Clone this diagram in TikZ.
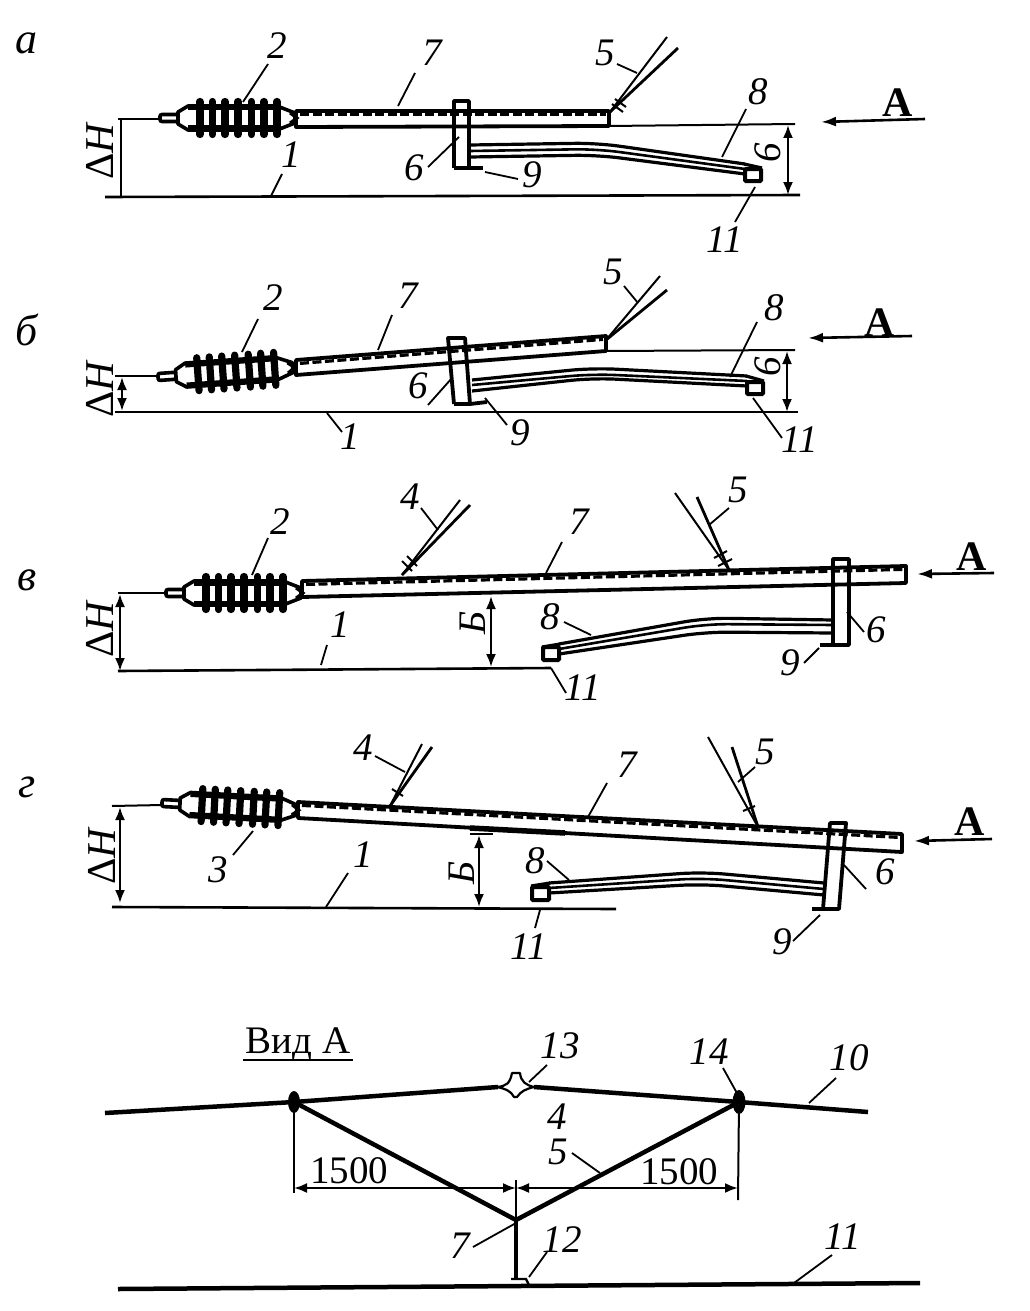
\documentclass[tikz,border=0pt]{standalone}
\usepackage{fontspec}
\setmainfont{Liberation Serif}
\usetikzlibrary{arrows.meta}
\tikzset{
  lbl/.style={font=\itshape\fontsize{39}{39}\selectfont,inner sep=0pt},
  panel/.style={font=\itshape\fontsize{44}{44}\selectfont,inner sep=0pt},
  dlt/.style={font=\itshape\fontsize{41}{41}\selectfont,inner sep=0pt,rotate=90},
  bigA/.style={font=\bfseries\fontsize{42}{42}\selectfont,inner sep=0pt},
  view/.style={font=\fontsize{39}{39}\selectfont,inner sep=0pt},
  upnum/.style={font=\fontsize{39}{39}\selectfont,inner sep=0pt},
  leader/.style={line width=1.8pt},
  thinl/.style={line width=2pt},
  wirethick/.style={line width=2.8pt},
  gnd/.style={line width=2.6pt},
  dimarr/.style={line width=2.2pt,{Latex[length=13pt,width=10pt]}-{Latex[length=13pt,width=10pt]}},
  viewarr/.style={line width=2.6pt,-{Latex[length=15pt,width=10pt]}},
  rodline/.style={line width=3.8pt,line join=round},
  roddash/.style={line width=3.2pt,dash pattern=on 9pt off 3.5pt},
  clampl/.style={line width=3.8pt,line join=round},
  boxl/.style={line width=4pt,rounded corners=1pt},
  wireo/.style={line width=3.2pt,rounded corners=22pt},
  wirem/.style={line width=2.6pt,rounded corners=22pt},
  heavy/.style={line width=4.5pt},
  insulator/.pic={
    \draw[line width=3.6pt,rounded corners=2pt,fill=white] (0,-3.5) rectangle (18,3.5);
    \draw[line width=3.6pt,fill=white,line join=round] (18,-6)--(28,-12)--(117,-12)--(135,-5)--(135,5)--(117,12)--(28,12)--(18,6)--cycle;
    \draw[line width=4pt] (28,-9.5)--(117,-9.5) (28,9.5)--(117,9.5);
    \foreach \sx in {40,52.5,65,78,91.5,104,117}{
      \draw[line width=7.2pt,line cap=round] (\sx,-16.5)--(\sx,16.5);
    }
    \draw[line width=3pt] (130,-5)--(137,0)--(130,5);
  }
}
% labelled leader
\newcommand{\lab}[5]{%
  \node[lbl] (#1) at (#3) {#2};
  \coordinate (#1-a) at (#4);
  \coordinate (#1-b) at (#5);
  \draw[leader] (#1-a)--(#1-b);
}
% rod: left x, top, bottom; right x, top, bottom
\newcommand{\rodbar}[6]{%
  \draw[rodline] (#1,#2)--(#4,#5)--(#4,#6)--(#1,#3)--cycle;
  \draw[roddash] (#1+4,#2+3.4)--(#4-3,#5+3.4);
}
% three wires between clamp and box
\newcommand{\wires}[9]{%
  \draw[wireo] (#1,#2)--(#5,#6)--(#8,#9);
  \draw[wirem] (#1,#3)--(#5,#6+6)--(#8,#9+5);
  \draw[wireo] (#1,#4)--(#5,#7)--(#8,#9+10);
}
\begin{document}
\begin{tikzpicture}[x=1pt,y=-1pt]
\useasboundingbox[fill=white] (0,0) rectangle (1029,1311);

%% ---------- panel a ----------
\node[panel] (pa) at (27,43) {а};
\draw[gnd] (105,197)--(800,195);
\draw[thinl] (609,126)--(795,124);
\draw[thinl] (118,119)--(160,119);
\draw[thinl] (120.5,119)--(120.5,197);
\node[dlt] (dHa) at (100,152) {{\upshape Δ}H};
\pic at (160,118) {insulator};
\rodbar{296}{111}{127}{609}{111}{126}
\draw[clampl] (454,168)--(454,101)--(469,101)--(469,168)--(483,168) (454,168)--(469,168);
\wires{470}{145}{151}{157}{597}{143}{155}{745}{164}
\draw[wireo] (744,164)--(762,168);
\draw[boxl] (745,169) rectangle (761,181);
\coordinate (w5a) at (667,37); \coordinate (w5b) at (678,48); \coordinate (r5a) at (610,112);
\draw[thinl] (w5a)--(r5a); \draw[wirethick] (w5b)--(r5a);
\draw[thinl] (615,99)--(626,107) (612,104)--(623,112);
\draw[dimarr] (788,125)--(788,195);
\node[lbl,rotate=90] (ba) at (768,153) {6};
\coordinate (Aa) at (925,119); \coordinate (Ab) at (821,122);
\draw[viewarr] (Aa)--(Ab);
\node[bigA] (la) at (898,103) {А};
\lab{a2}{2}{277,46}{268,64}{243,102}
\lab{a7}{7}{432,53}{415,73}{398,106}
\lab{a1}{1}{291,155}{282,174}{271,196}
\lab{a6}{6}{414,168}{428,167}{459,137}
\lab{a9}{9}{532,175}{485,172}{518,179}
\lab{a5}{5}{605,53}{617,64}{637,73}
\lab{a8}{8}{758,92}{746,109}{722,157}
\lab{a11}{11}{725,240}{755,187}{735,222}

%% ---------- panel b ----------
\node[panel] (pb) at (27,330) {б};
\draw[gnd] (115,412)--(798,412);
\draw[thinl] (606,351)--(795,350);
\draw[thinl] (115,376)--(160,376);
\draw[dimarr] (122,377)--(122,411);
\node[dlt] (dHb) at (100,390) {{\upshape Δ}H};
\pic[rotate=4] at (158,377) {insulator};
\rodbar{296}{360}{375}{606}{336}{351}
\draw[clampl] (454,404)--(448,338)--(465,338)--(470,404)--(487,402) (454,404)--(470,404);
\wires{472}{380}{385}{391}{593}{368}{378}{747}{376}
\draw[wireo] (746,376)--(764,381);
\draw[boxl] (747,382) rectangle (763,394);
\coordinate (w5c) at (660,276); \coordinate (w5d) at (667,290); \coordinate (r5b) at (606,340);
\draw[thinl] (w5c)--(r5b); \draw[wirethick] (w5d)--(r5b);
\draw[dimarr] (787,351)--(787,412);
\node[lbl,rotate=90] (bb) at (768,367) {6};
\coordinate (Ac) at (912,336); \coordinate (Ad) at (808,338);
\draw[viewarr] (Ac)--(Ad);
\node[bigA] (lb) at (880,323) {А};
\lab{b2}{2}{273,298}{258,319}{242,352}
\lab{b7}{7}{408,296}{392,315}{378,350}
\lab{b1}{1}{350,437}{327,413}{342,432}
\lab{b6}{6}{418,386}{428,405}{452,378}
\lab{b9}{9}{520,433}{485,398}{507,425}
\lab{b5}{5}{613,272}{624,286}{638,303}
\lab{b8}{8}{774,308}{757,322}{730,377}
\lab{b11}{11}{800,440}{753,398}{782,438}

%% ---------- panel v ----------
\node[panel] (pv) at (27,580) {в};
\draw[gnd] (118,671)--(551,668);
\draw[thinl] (118,593)--(166,593);
\draw[dimarr] (120,594)--(120,671);
\node[dlt] (dHv) at (100,630) {{\upshape Δ}H};
\pic at (166,593) {insulator};
\rodbar{302}{581}{597}{906}{566}{583}
\draw[clampl] (833,645)--(833,559)--(849,559)--(849,645)--(820,645);
\wires{833}{620}{625}{633}{706}{618}{632}{559}{644}
\draw[wireo] (560,644)--(542,647);
\draw[boxl] (543,647) rectangle (559,660);
\coordinate (w4a) at (460,500); \coordinate (w4b) at (470,505); \coordinate (r4a) at (402,575);
\draw[thinl] (w4a)--(r4a); \draw[wirethick] (w4b)--(r4a);
\draw[thinl] (407,556)--(417,566) (402,561)--(412,571);
\coordinate (w5e) at (675,493); \coordinate (w5f) at (697,497); \coordinate (r5c) at (729,570);
\draw[thinl] (w5e)--(r5c); \draw[wirethick] (w5f)--(r5c);
\draw[thinl] (714,558)--(727,551) (718,566)--(732,559);
\draw[dimarr] (491,596)--(491,667);
\node[lbl,rotate=90] (bv) at (473,623) {Б};
\coordinate (Ae) at (994,573); \coordinate (Af) at (917,574);
\draw[viewarr] (Ae)--(Af);
\node[bigA] (lv) at (972,557) {А};
\lab{v2}{2}{280,522}{268,538}{252,575}
\lab{v4}{4}{410,497}{421,508}{438,530}
\lab{v7}{7}{579,522}{562,542}{546,573}
\lab{v5}{5}{738,490}{729,508}{709,525}
\lab{v1}{1}{340,625}{327,645}{321,665}
\lab{v8}{8}{550,617}{564,622}{591,635}
\lab{v11}{11}{583,688}{551,668}{566,693}
\lab{v6}{6}{876,630}{864,632}{847,612}
\lab{v9}{9}{790,663}{804,663}{819,648}

%% ---------- panel g ----------
\node[panel] (pg) at (27,787) {г};
\draw[gnd] (112,907)--(616,909);
\draw[thinl] (112,806)--(162,805);
\draw[dimarr] (120,807)--(120,903);
\node[dlt] (dHg) at (102,857) {{\upshape Δ}H};
\pic[rotate=-3] at (162,803) {insulator};
\rodbar{298}{802}{818}{902}{834}{852}
\draw[line width=5.5pt] (470,828)--(565,833);
\draw[clampl] (823,909)--(830,823)--(846,823)--(839,909)--(812,909);
\draw[thinl] (470,834)--(493,834);
\wires{824}{883}{889}{895}{702}{872}{884}{549}{883}
\draw[wireo] (550,883)--(531,886);
\draw[boxl] (532,887) rectangle (549,900);
\coordinate (w4c) at (422,744); \coordinate (w4d) at (432,747); \coordinate (r4b) at (390,806);
\draw[thinl] (w4c)--(r4b); \draw[wirethick] (w4d)--(r4b);
\draw[thinl] (392,789)--(403,796);
\coordinate (w5g) at (708,737); \coordinate (w5h) at (732,747); \coordinate (r5d) at (758,827);
\draw[thinl] (w5g)--(r5d); \draw[wirethick] (w5h)--(r5d);
\draw[thinl] (743,811)--(755,806);
\draw[dimarr] (479,835)--(479,907);
\node[lbl,rotate=90] (bg) at (462,873) {Б};
\coordinate (Ag) at (992,839); \coordinate (Ah) at (914,841);
\draw[viewarr] (Ag)--(Ah);
\node[bigA] (lg) at (970,822) {А};
\lab{g4}{4}{363,748}{375,756}{405,772}
\lab{g3}{3}{218,870}{233,855}{253,831}
\lab{g7}{7}{627,765}{607,783}{588,817}
\lab{g5}{5}{765,752}{755,767}{738,782}
\lab{g1}{1}{363,855}{348,873}{326,907}
\lab{g8}{8}{535,861}{547,861}{569,880}
\lab{g11}{11}{529,947}{540,910}{535,928}
\lab{g6}{6}{885,872}{866,889}{844,865}
\lab{g9}{9}{782,942}{793,941}{820,915}

%% ---------- view A ----------
\node[view] (vt) at (298,1044) {Вид А};
\draw[line width=2.4pt] (243,1060)--(353,1060);
\coordinate (c0) at (105,1113);
\coordinate (cL) at (294,1102);
\coordinate (c1) at (498,1087);
\coordinate (c2) at (534,1087);
\coordinate (cR) at (739,1102);
\coordinate (c3) at (868,1112);
\coordinate (apex) at (516,1220);
\coordinate (foot) at (516,1279);
\draw[heavy] (c0)--(cL)--(c1) (c2)--(cR)--(c3);
\draw[heavy] (cL)--(apex)--(cR);
\fill (cL) ellipse [x radius=6pt,y radius=11pt];
\fill (cR) ellipse [x radius=6.5pt,y radius=12pt];
% clamp 13
\draw[line width=2.2pt,fill=white,line join=round]
  (497,1087) .. controls (507,1086) and (510,1083) .. (512,1073)
  -- (520,1073) .. controls (521,1082) and (526,1085) .. (534,1087)
  .. controls (526,1089) and (521,1091) .. (517,1097)
  -- (514,1097) .. controls (511,1091) and (506,1089) .. (497,1087) -- cycle;
% dimensions
\draw[thinl] (cL)--(294,1193);
\draw[thinl] (cR)--(738,1200);
\draw[thinl] (516,1180)--(apex);
\coordinate (dL) at (294,1188); \coordinate (dM) at (516,1188); \coordinate (dR) at (738,1188);
\draw[dimarr] (dL)--(dM);
\draw[dimarr] (dM)--(dR);
\node[upnum] (d1) at (349,1171) {1500};
\node[upnum] (d2) at (679,1172) {1500};
% hanger and bus
\draw[line width=4pt] (apex)--(foot);
\draw[line width=2.4pt] (511,1279)--(526,1279)--(529,1285);
\coordinate (b0) at (118,1289); \coordinate (b1) at (920,1283);
\draw[heavy] (b0)--(b1);
\lab{t13}{13}{560,1046}{547,1065}{529,1082}
\lab{t14}{14}{709,1052}{723,1068}{738,1095}
\lab{t10}{10}{849,1058}{836,1078}{809,1103}
\node[lbl] (t4) at (557,1117) {4};
\lab{t5}{5}{558,1152}{572,1153}{600,1173}
\lab{t7}{7}{460,1246}{473,1247}{516,1223}
\lab{t12}{12}{562,1240}{547,1252}{529,1277}
\lab{t11}{11}{843,1237}{832,1255}{794,1283}
\end{tikzpicture}
\end{document}
